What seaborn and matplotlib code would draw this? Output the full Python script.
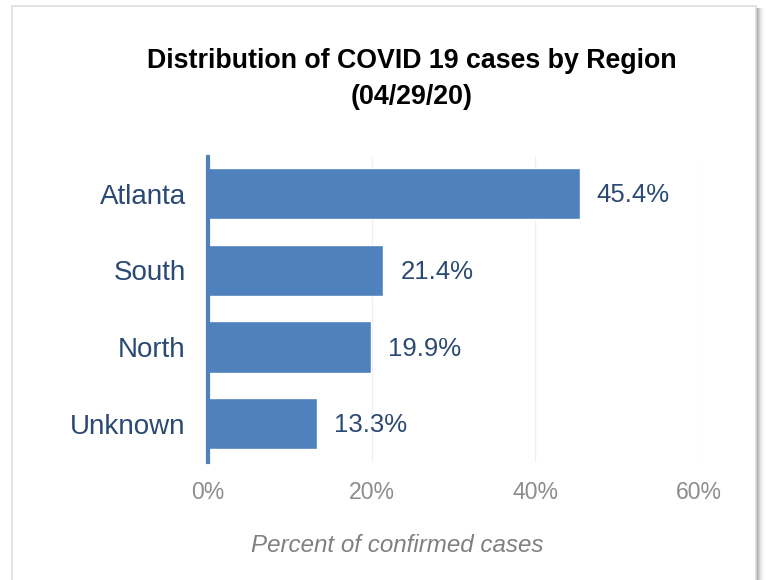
import matplotlib
matplotlib.use("Agg")
import matplotlib.pyplot as plt
import seaborn as sns
import pandas as pd
from matplotlib.patches import Rectangle

# Data
regions = ["Atlanta", "South", "North", "Unknown"]
percent = [45.4, 21.4, 19.9, 13.3]
x_ticks = [0, 20, 40, 60]
x_tick_labels = ["0%", "20%", "40%", "60%"]

bar_color = "#4f81bd"
label_color = "#2b4a73"
tick_color = "#8c8c8c"

sns.set_style("white")
plt.rcParams["font.family"] = ["Liberation Sans", "DejaVu Sans"]

df = pd.DataFrame({"region": regions, "percent": percent})

fig = plt.figure(figsize=(7.66, 5.8), dpi=100)

# card with a soft shadow on the right
for i, a in enumerate([0.10, 0.08, 0.06, 0.045, 0.03, 0.02, 0.012, 0.006]):
    fig.patches.append(Rectangle((756 / 766, -0.1), (i + 2) / 766, 1 - 8 / 580 + 0.1,
                                 transform=fig.transFigure, facecolor="black",
                                 alpha=a, edgecolor="none", zorder=-3))
fig.patches.append(Rectangle((12 / 766, -0.1), 744 / 766, 1 - 6 / 580 + 0.1,
                             transform=fig.transFigure, facecolor="white",
                             edgecolor="#dddddd", linewidth=1.2, zorder=-2))

ax = fig.add_axes([208 / 766, 1 - 462 / 580, 491 / 766, 305 / 580])
ax.set_facecolor("none")
sns.barplot(data=df, x="percent", y="region", color=bar_color, width=0.67,
            saturation=1, ax=ax)

ax.set_xlim(0, 60)
ax.set_ylim(3.5, -0.48)
ax.set_xticks(x_ticks)
ax.set_xticklabels(x_tick_labels)
ax.tick_params(axis="x", colors=tick_color, labelsize=16.6, length=0, pad=14)
ax.tick_params(axis="y", colors=label_color, labelsize=20, length=0, pad=16)
for t in ax.get_yticklabels():
    t.set_color(label_color)

ax.grid(axis="x", color="#f0f0f0", linewidth=1)
ax.set_axisbelow(True)
for s in ["top", "right", "bottom"]:
    ax.spines[s].set_visible(False)
ax.spines["left"].set_color(bar_color)
ax.spines["left"].set_linewidth(3)

for i, v in enumerate(percent):
    ax.text(v + 2.1, i + 0.02, f"{v}%", va="center", ha="left",
            fontsize=18.5, color=label_color)

ax.set_ylabel("")
ax.set_xlabel("")
fig.text(397 / 766, 1 - 546 / 580, "Percent of confirmed cases", fontsize=17.4,
         style="italic", color="#808080", ha="center", va="center")

fig.text(412 / 766, 1 - 79 / 580, "Distribution of COVID 19 cases by Region\n(04/29/20)",
         ha="center", va="center", fontsize=19.3, fontweight="bold",
         color="black", linespacing=1.45)

fig.savefig("out.png", dpi=100)
